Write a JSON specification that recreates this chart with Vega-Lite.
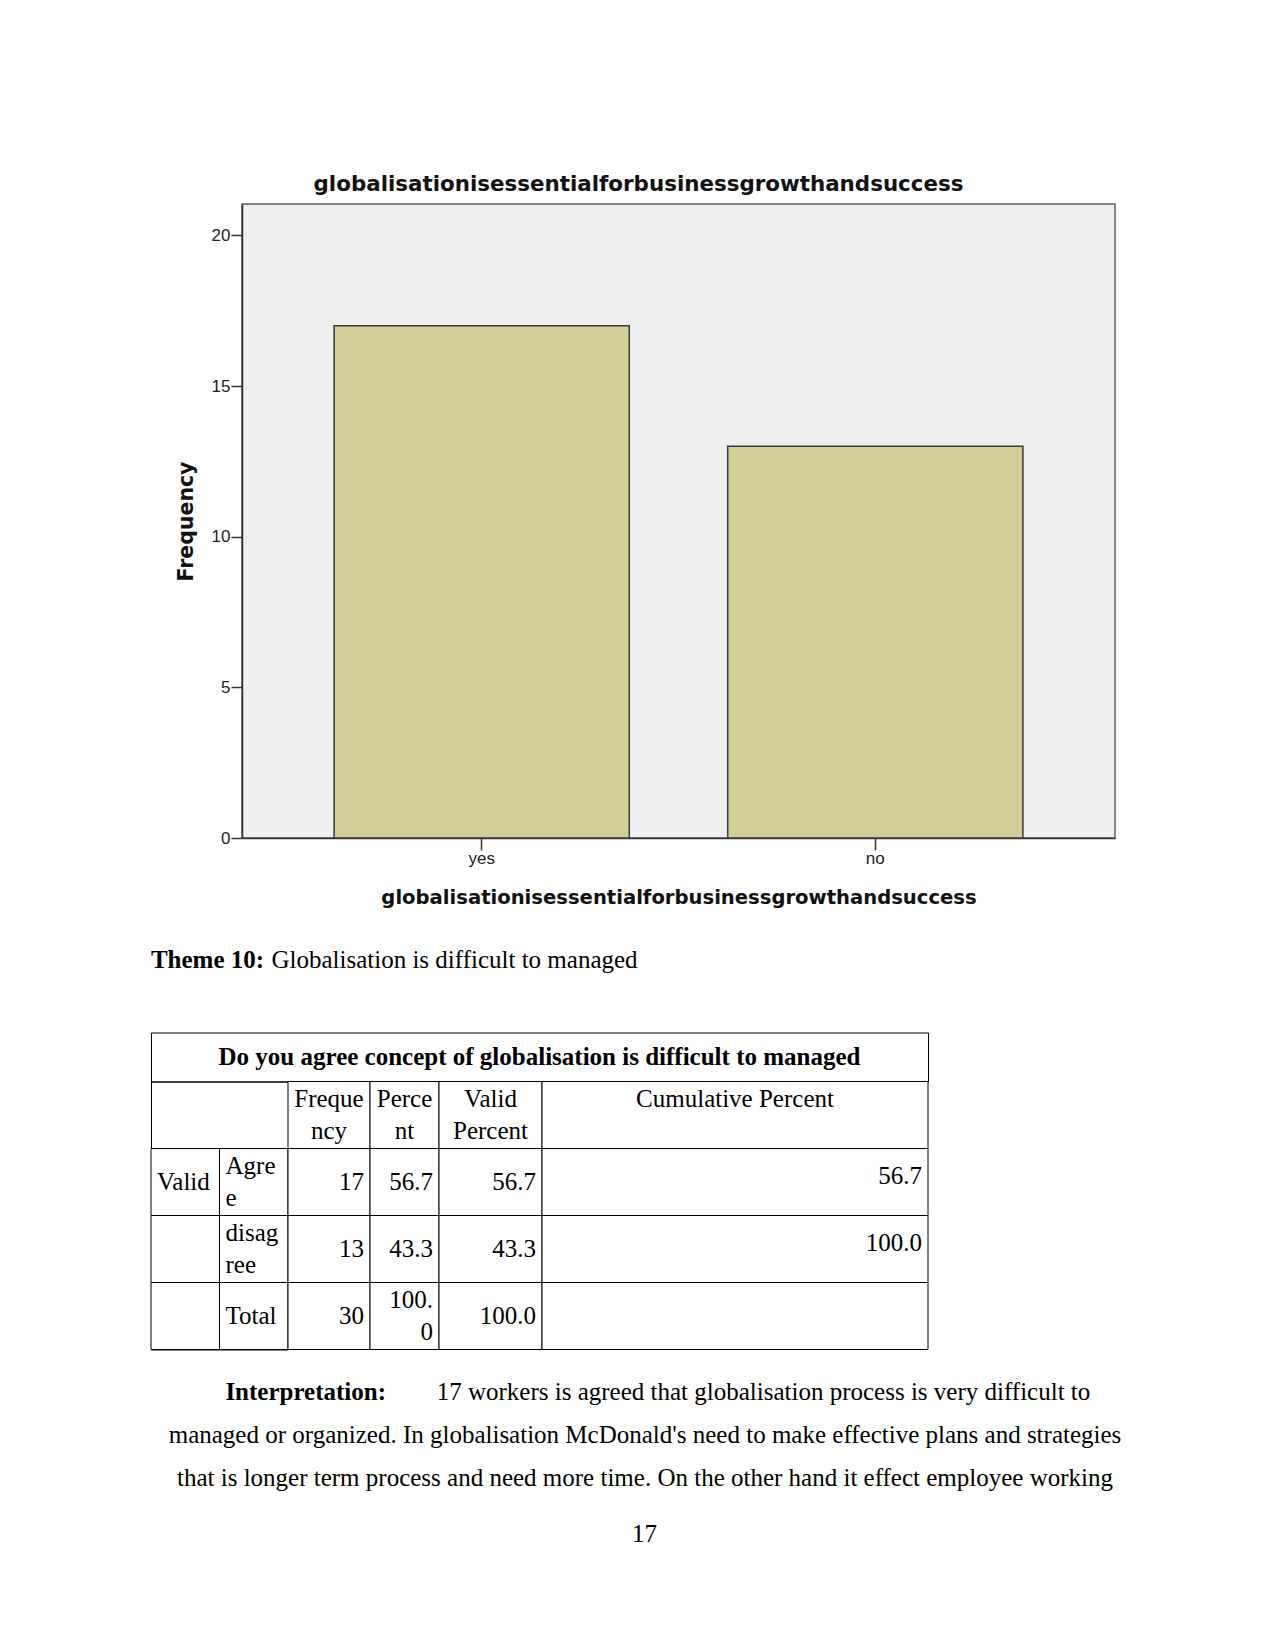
{
  "$schema": "https://vega.github.io/schema/vega-lite/v6.json",
  "background": "white",
  "padding": {"left": 150, "top": 172, "right": 0, "bottom": 0},
  "config": {"view": {"stroke": null}},
  "title": {"text": "17", "orient": "bottom", "anchor": "middle", "font": "Liberation Serif", "fontSize": 25, "fontWeight": "normal", "color": "black", "offset": 22.5},
  "datasets": {
    "table": [
      {"row": "h", "col": "c1", "text": ""},
      {"row": "h", "col": "c2", "text": ""},
      {"row": "h", "col": "freq", "text": "Freque\nncy"},
      {"row": "h", "col": "pct", "text": "Perce\nnt"},
      {"row": "h", "col": "vpct", "text": "Valid\nPercent"},
      {"row": "h", "col": "cum", "text": "Cumulative Percent\n"},
      {"row": "agree", "col": "c1", "text": "Valid"},
      {"row": "agree", "col": "c2", "text": "Agre\ne"},
      {"row": "agree", "col": "freq", "text": "17"},
      {"row": "agree", "col": "pct", "text": "56.7"},
      {"row": "agree", "col": "vpct", "text": "56.7"},
      {"row": "agree", "col": "cum", "text": "56.7"},
      {"row": "disagree", "col": "c1", "text": ""},
      {"row": "disagree", "col": "c2", "text": "disag\nree"},
      {"row": "disagree", "col": "freq", "text": "13"},
      {"row": "disagree", "col": "pct", "text": "43.3"},
      {"row": "disagree", "col": "vpct", "text": "43.3"},
      {"row": "disagree", "col": "cum", "text": "100.0"},
      {"row": "total", "col": "c1", "text": ""},
      {"row": "total", "col": "c2", "text": "Total"},
      {"row": "total", "col": "freq", "text": "30"},
      {"row": "total", "col": "pct", "text": "100.\n0"},
      {"row": "total", "col": "vpct", "text": "100.0"},
      {"row": "total", "col": "cum", "text": ""}
    ]
  },
  "spacing": 2,
  "vconcat": [
    {
      "spacing": 0,
      "hconcat": [
        {"width": 24, "height": 1, "data": {"values": [{"t": ""}]}, "mark": {"type": "text"}, "encoding": {"text": {"field": "t", "type": "nominal"}}},
        {
          "width": 873,
          "height": 634,
          "view": {"fill": "#EFEFEF", "stroke": "#5f5f5f", "strokeWidth": 1.5},
          "title": {"text": "globalisationisessentialforbusinessgrowthandsuccess", "font": "DejaVu Sans", "fontSize": 21.4, "fontWeight": "bold", "color": "#111111", "anchor": "middle", "dx": -40, "offset": -8, "baseline": "alphabetic"},
          "data": {"values": [{"answer": "yes", "frequency": 17}, {"answer": "no", "frequency": 13}]},
          "mark": {"type": "bar", "fill": "#D3CE97", "stroke": "#3a3a3a", "strokeWidth": 1.5},
          "encoding": {
            "x": {
              "field": "answer", "type": "nominal", "sort": ["yes", "no"],
              "scale": {"paddingInner": 0.25, "paddingOuter": 0.234},
              "axis": {"title": "globalisationisessentialforbusinessgrowthandsuccess", "labelAngle": 0, "labelFont": "Liberation Sans", "labelFontSize": 17, "labelColor": "#222222", "tickSize": 12, "tickColor": "#333333", "tickWidth": 1.5, "labelPadding": 0, "domainColor": "#333333", "domainWidth": 1.5, "titleFont": "DejaVu Sans", "titleFontSize": 19.6, "titleFontWeight": "bold", "titleColor": "#111111", "titlePadding": 22}
            },
            "y": {
              "field": "frequency", "type": "quantitative",
              "scale": {"domain": [0, 21.04], "nice": false, "zero": true},
              "axis": {"title": "Frequency", "values": [0, 5, 10, 15, 20], "grid": false, "labelFont": "Liberation Sans", "labelFontSize": 17, "labelColor": "#222222", "tickSize": 11, "tickColor": "#333333", "tickWidth": 1.5, "labelPadding": 1, "domainColor": "#333333", "domainWidth": 1.5, "titleFont": "DejaVu Sans", "titleFontSize": 20.5, "titleFontWeight": "bold", "titleColor": "#111111", "titlePadding": 15}
            }
          }
        }
      ]
    },
    {
      "spacing": 22.5,
      "vconcat": [
        {
          "spacing": 6,
          "hconcat": [
            {"width": 113, "height": 99, "data": {"values": [{"t": "Theme 10:"}]}, "mark": {"type": "text", "font": "Liberation Serif", "fontSize": 25, "fontWeight": "bold", "color": "black"}, "encoding": {"text": {"field": "t", "type": "nominal"}}},
            {"width": 367, "height": 99, "data": {"values": [{"t": "Globalisation is difficult to managed"}]}, "mark": {"type": "text", "font": "Liberation Serif", "fontSize": 25, "color": "black"}, "encoding": {"text": {"field": "t", "type": "nominal"}}}
          ]
        },
        {
          "spacing": 19.5,
          "vconcat": [
            {
              "spacing": 0,
              "bounds": "flush",
              "vconcat": [
                {"width": 777, "height": 49, "view": {"stroke": "black", "strokeWidth": 1}, "data": {"values": [{"t": "Do you agree concept of globalisation is difficult to managed"}]}, "mark": {"type": "text", "font": "Liberation Serif", "fontSize": 25, "fontWeight": "bold", "color": "black"}, "encoding": {"text": {"field": "t", "type": "nominal"}}},
                {
                  "spacing": 0,
                  "bounds": "flush",
                  "hconcat": [
                    {
                      "width": 137, "height": 268, "view": {"stroke": "black", "strokeWidth": 1},
                      "data": {"name": "table"},
                      "transform": [{"filter": "datum.col == 'c1' || datum.col == 'c2'"}],
                      "encoding": {
                        "x": {"field": "col", "type": "nominal", "axis": null, "scale": {"type": "band", "domain": ["c1", "c2"], "paddingInner": 0, "paddingOuter": 0}},
                        "y": {"field": "row", "type": "nominal", "axis": null, "scale": {"type": "band", "domain": ["h", "agree", "disagree", "total"], "paddingInner": 0, "paddingOuter": 0}}
                      },
                      "layer": [
                        {"transform": [{"filter": "datum.row != 'h'"}], "mark": {"type": "rect", "fill": "white", "stroke": "black", "strokeWidth": 1}},
                        {"transform": [{"filter": "indexof(datum.text, '\\n') < 0"}], "mark": {"type": "text", "font": "Liberation Serif", "fontSize": 25, "color": "black", "align": "left", "dx": 6}, "encoding": {"text": {"field": "text", "type": "nominal"}, "x": {"field": "col", "type": "nominal", "bandPosition": 0, "axis": null}}},
                        {"transform": [{"filter": "indexof(datum.text, '\\n') >= 0"}], "mark": {"type": "text", "font": "Liberation Serif", "fontSize": 25, "color": "black", "align": "left", "dx": 6, "dy": -16, "lineBreak": "\n", "lineHeight": 32}, "encoding": {"text": {"field": "text", "type": "nominal"}, "x": {"field": "col", "type": "nominal", "bandPosition": 0, "axis": null}}}
                      ]
                    },
                    {
                      "width": 82, "height": 268,
                      "data": {"name": "table"},
                      "transform": [{"filter": "datum.col == 'freq'"}],
                      "encoding": {
                        "x": {"field": "col", "type": "nominal", "axis": null, "scale": {"type": "band", "paddingInner": 0, "paddingOuter": 0}},
                        "y": {"field": "row", "type": "nominal", "axis": null, "scale": {"type": "band", "domain": ["h", "agree", "disagree", "total"], "paddingInner": 0, "paddingOuter": 0}}
                      },
                      "layer": [
                        {"mark": {"type": "rect", "fill": "white", "stroke": "black", "strokeWidth": 1}},
                        {"transform": [{"filter": "datum.row == 'h'"}], "mark": {"type": "text", "font": "Liberation Serif", "fontSize": 25, "color": "black", "align": "center", "dy": -16, "lineBreak": "\n", "lineHeight": 32}, "encoding": {"text": {"field": "text", "type": "nominal"}}},
                        {"transform": [{"filter": "datum.row != 'h' && indexof(datum.text, '\\n') < 0"}], "mark": {"type": "text", "font": "Liberation Serif", "fontSize": 25, "color": "black", "align": "right", "dx": -6}, "encoding": {"text": {"field": "text", "type": "nominal"}, "x": {"field": "col", "type": "nominal", "bandPosition": 1, "axis": null}}},
                        {"transform": [{"filter": "datum.row != 'h' && indexof(datum.text, '\\n') >= 0"}], "mark": {"type": "text", "font": "Liberation Serif", "fontSize": 25, "color": "black", "align": "right", "dx": -6, "dy": -16, "lineBreak": "\n", "lineHeight": 32}, "encoding": {"text": {"field": "text", "type": "nominal"}, "x": {"field": "col", "type": "nominal", "bandPosition": 1, "axis": null}}}
                      ]
                    },
                    {
                      "width": 69, "height": 268,
                      "data": {"name": "table"},
                      "transform": [{"filter": "datum.col == 'pct'"}],
                      "encoding": {
                        "x": {"field": "col", "type": "nominal", "axis": null, "scale": {"type": "band", "paddingInner": 0, "paddingOuter": 0}},
                        "y": {"field": "row", "type": "nominal", "axis": null, "scale": {"type": "band", "domain": ["h", "agree", "disagree", "total"], "paddingInner": 0, "paddingOuter": 0}}
                      },
                      "layer": [
                        {"mark": {"type": "rect", "fill": "white", "stroke": "black", "strokeWidth": 1}},
                        {"transform": [{"filter": "datum.row == 'h'"}], "mark": {"type": "text", "font": "Liberation Serif", "fontSize": 25, "color": "black", "align": "center", "dy": -16, "lineBreak": "\n", "lineHeight": 32}, "encoding": {"text": {"field": "text", "type": "nominal"}}},
                        {"transform": [{"filter": "datum.row != 'h' && indexof(datum.text, '\\n') < 0"}], "mark": {"type": "text", "font": "Liberation Serif", "fontSize": 25, "color": "black", "align": "right", "dx": -6}, "encoding": {"text": {"field": "text", "type": "nominal"}, "x": {"field": "col", "type": "nominal", "bandPosition": 1, "axis": null}}},
                        {"transform": [{"filter": "datum.row != 'h' && indexof(datum.text, '\\n') >= 0"}], "mark": {"type": "text", "font": "Liberation Serif", "fontSize": 25, "color": "black", "align": "right", "dx": -6, "dy": -16, "lineBreak": "\n", "lineHeight": 32}, "encoding": {"text": {"field": "text", "type": "nominal"}, "x": {"field": "col", "type": "nominal", "bandPosition": 1, "axis": null}}}
                      ]
                    },
                    {
                      "width": 103, "height": 268,
                      "data": {"name": "table"},
                      "transform": [{"filter": "datum.col == 'vpct'"}],
                      "encoding": {
                        "x": {"field": "col", "type": "nominal", "axis": null, "scale": {"type": "band", "paddingInner": 0, "paddingOuter": 0}},
                        "y": {"field": "row", "type": "nominal", "axis": null, "scale": {"type": "band", "domain": ["h", "agree", "disagree", "total"], "paddingInner": 0, "paddingOuter": 0}}
                      },
                      "layer": [
                        {"mark": {"type": "rect", "fill": "white", "stroke": "black", "strokeWidth": 1}},
                        {"transform": [{"filter": "datum.row == 'h'"}], "mark": {"type": "text", "font": "Liberation Serif", "fontSize": 25, "color": "black", "align": "center", "dy": -16, "lineBreak": "\n", "lineHeight": 32}, "encoding": {"text": {"field": "text", "type": "nominal"}}},
                        {"transform": [{"filter": "datum.row != 'h' && indexof(datum.text, '\\n') < 0"}], "mark": {"type": "text", "font": "Liberation Serif", "fontSize": 25, "color": "black", "align": "right", "dx": -6}, "encoding": {"text": {"field": "text", "type": "nominal"}, "x": {"field": "col", "type": "nominal", "bandPosition": 1, "axis": null}}},
                        {"transform": [{"filter": "datum.row != 'h' && indexof(datum.text, '\\n') >= 0"}], "mark": {"type": "text", "font": "Liberation Serif", "fontSize": 25, "color": "black", "align": "right", "dx": -6, "dy": -16, "lineBreak": "\n", "lineHeight": 32}, "encoding": {"text": {"field": "text", "type": "nominal"}, "x": {"field": "col", "type": "nominal", "bandPosition": 1, "axis": null}}}
                      ]
                    },
                    {
                      "width": 386, "height": 268,
                      "data": {"name": "table"},
                      "transform": [{"filter": "datum.col == 'cum'"}],
                      "encoding": {
                        "x": {"field": "col", "type": "nominal", "axis": null, "scale": {"type": "band", "paddingInner": 0, "paddingOuter": 0}},
                        "y": {"field": "row", "type": "nominal", "axis": null, "scale": {"type": "band", "domain": ["h", "agree", "disagree", "total"], "paddingInner": 0, "paddingOuter": 0}}
                      },
                      "layer": [
                        {"mark": {"type": "rect", "fill": "white", "stroke": "black", "strokeWidth": 1}},
                        {"transform": [{"filter": "datum.row == 'h'"}], "mark": {"type": "text", "font": "Liberation Serif", "fontSize": 25, "color": "black", "align": "center", "dy": -16, "lineBreak": "\n", "lineHeight": 32}, "encoding": {"text": {"field": "text", "type": "nominal"}}},
                        {"transform": [{"filter": "datum.row != 'h' && indexof(datum.text, '\\n') < 0"}], "mark": {"type": "text", "font": "Liberation Serif", "fontSize": 25, "color": "black", "align": "right", "dx": -6, "dy": -6}, "encoding": {"text": {"field": "text", "type": "nominal"}, "x": {"field": "col", "type": "nominal", "bandPosition": 1, "axis": null}}}
                      ]
                    }
                  ]
                }
              ]
            },
            {
              "spacing": 0,
              "vconcat": [
                {
                  "spacing": 16,
                  "hconcat": [
                    {"width": 235, "height": 43, "data": {"values": [{"t": "Interpretation:"}]}, "mark": {"type": "text", "font": "Liberation Serif", "fontSize": 25, "fontWeight": "bold", "color": "black", "align": "right"}, "encoding": {"text": {"field": "t", "type": "nominal"}, "x": {"value": "width"}}},
                    {"width": 723, "height": 43, "data": {"values": [{"t": "17 workers is agreed that globalisation process is very difficult to"}]}, "mark": {"type": "text", "font": "Liberation Serif", "fontSize": 25, "color": "black"}, "encoding": {"text": {"field": "t", "type": "nominal"}}}
                  ]
                },
                {
                  "width": 988, "height": 86,
                  "data": {"values": [
                    {"line": 1, "t": "managed or organized. In globalisation McDonald's need to make effective plans and strategies"},
                    {"line": 2, "t": "that is longer term process and need more time. On the other hand it effect employee working"}
                  ]},
                  "mark": {"type": "text", "font": "Liberation Serif", "fontSize": 25, "color": "black"},
                  "encoding": {
                    "y": {"field": "line", "type": "ordinal", "axis": null, "scale": {"type": "band", "paddingInner": 0, "paddingOuter": 0}},
                    "text": {"field": "t", "type": "nominal"}
                  }
                }
              ]
            }
          ]
        }
      ]
    }
  ]
}
